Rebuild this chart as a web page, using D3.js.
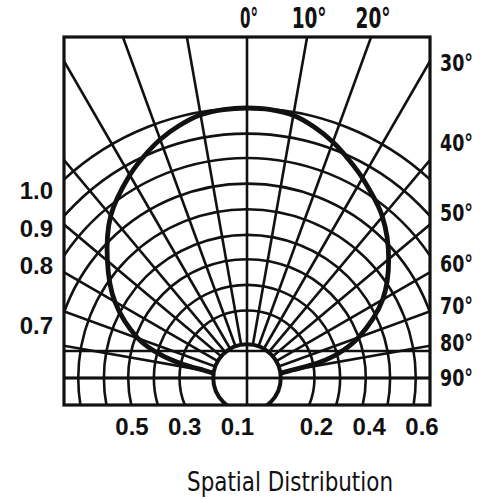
<!DOCTYPE html>
<html><head><meta charset="utf-8">
<script src="https://cdn.jsdelivr.net/npm/d3@7"></script>
<style>html,body{margin:0;padding:0;background:#fff;}svg{display:block;}</style>
</head><body>
<svg id="chart" width="481" height="499"></svg>
<script>
// ---------- data ----------
const patternAngles = [0, 5, 10, 15, 20, 25, 30, 40, 50, 60, 70, 75, 78, 80, 82];
const patternRight  = [1.0, 0.998, 0.988, 0.962, 0.93, 0.892, 0.855, 0.78, 0.685, 0.58, 0.44, 0.35, 0.27, 0.17, 0.125];
const patternLeft   = [1.0, 0.998, 0.99, 0.968, 0.94, 0.905, 0.868, 0.785, 0.675, 0.565, 0.43, 0.33, 0.24, 0.16, 0.125];
const ringValues = [0.25, 0.345, 0.44, 0.53, 0.625, 0.72, 0.815, 0.905, 1.0];
const innerRing = 0.125;
const spokeAngles = [-90, -80, -70, -60, -50, -40, -30, -20, -10, 10, 20, 30, 40, 50, 60, 70, 80, 90];
const baseLines = [0, 0.1];
const topAngleTicks = [0, 10, 20];
const sideAngleTicks = [30, 40, 50, 60, 70, 80, 90];
const leftTicks = [1.0, 0.9, 0.8, 0.7];
const bottomTicks = [-0.5, -0.3, -0.1, 0.2, 0.4, 0.6];
const titleText = "Spatial Distribution";

// ---------- layout ----------
const box = {left: 64, right: 430, top: 37, bottom: 405};
const cx = 247, cy = 378, R = 270;
const ink = "#111";
const rad = d => d * Math.PI / 180;

const svg = d3.select("#chart");
const rScale = d3.scaleLinear().domain([0, 1]).range([0, R]);
const xBottom = d3.scaleLinear().domain([-0.5, 0.6]).range([132, 422]);
const yLeft = d3.scaleLinear().domain([0.7, 0.8, 1.0]).range([325, 265, 190]);

svg.append("defs").append("clipPath").attr("id", "boxclip")
  .append("rect").attr("x", box.left).attr("y", box.top)
  .attr("width", box.right - box.left).attr("height", box.bottom - box.top);

const g = svg.append("g").attr("clip-path", "url(#boxclip)");
const polar = g.append("g").attr("transform", `translate(${cx},${cy})`);

// rings
polar.selectAll("circle.ring").data(ringValues).join("circle")
  .attr("class", "ring").attr("r", d => rScale(d))
  .attr("fill", "none").attr("stroke", ink).attr("stroke-width", 2.6);

// spokes
polar.selectAll("line.spoke").data(spokeAngles).join("line")
  .attr("class", "spoke")
  .attr("x1", d => rScale(innerRing) * Math.sin(rad(d)))
  .attr("y1", d => -rScale(innerRing) * Math.cos(rad(d)))
  .attr("x2", d => rScale(2) * Math.sin(rad(d)))
  .attr("y2", d => -rScale(2) * Math.cos(rad(d)))
  .attr("stroke", ink).attr("stroke-width", 2.6);

// horizontal base lines
g.selectAll("line.base").data(baseLines).join("line")
  .attr("class", "base")
  .attr("x1", box.left).attr("x2", box.right)
  .attr("y1", d => cy - rScale(d)).attr("y2", d => cy - rScale(d))
  .attr("stroke", ink).attr("stroke-width", 2.6);

// inner circle (masks grid)
polar.append("circle").attr("r", rScale(innerRing))
  .attr("fill", "#fff").attr("stroke", ink).attr("stroke-width", 4);

// 0° vertical line and 90° horizontal line through the inner circle
g.append("line").attr("x1", cx).attr("x2", cx).attr("y1", box.top).attr("y2", box.bottom)
  .attr("stroke", ink).attr("stroke-width", 2.6);
g.append("line").attr("x1", box.left).attr("x2", box.right)
  .attr("y1", cy - rScale(baseLines[0])).attr("y2", cy - rScale(baseLines[0]))
  .attr("stroke", ink).attr("stroke-width", 2.6);

// radiation pattern
const pts = [];
for (let i = patternAngles.length - 1; i >= 1; i--) pts.push({a: -patternAngles[i], v: patternLeft[i]});
for (let i = 0; i < patternAngles.length; i++) pts.push({a: patternAngles[i], v: patternRight[i]});
const radial = d3.lineRadial()
  .angle(d => rad(d.a)).radius(d => rScale(d.v))
  .curve(d3.curveCatmullRom.alpha(0.5));
polar.append("path").attr("d", radial(pts))
  .attr("fill", "none").attr("stroke", ink).attr("stroke-width", 4.8)
  .attr("stroke-linejoin", "round");

// box
svg.append("rect").attr("x", box.left).attr("y", box.top)
  .attr("width", box.right - box.left).attr("height", box.bottom - box.top)
  .attr("fill", "none").attr("stroke", ink).attr("stroke-width", 3.2);

// ---------- labels ----------
const cond = "'DejaVu Sans Condensed', 'DejaVu Sans', sans-serif";
const wide = "'Liberation Sans', Arial, sans-serif";

svg.selectAll("text.top").data(topAngleTicks).join("text")
  .attr("class", "top")
  .attr("x", d => cx + (cy - box.top) * Math.tan(rad(d)) + 2)
  .attr("y", 28)
  .attr("text-anchor", "middle")
  .attr("font-family", cond).attr("font-stretch", "condensed")
  .attr("font-weight", "bold").attr("font-size", 28)
  .attr("textLength", d => d === 0 ? 18 : 35).attr("lengthAdjust", "spacingAndGlyphs")
  .attr("fill", ink).text(d => d + "°");

svg.selectAll("text.side").data(sideAngleTicks).join("text")
  .attr("class", "side")
  .attr("x", 440)
  .attr("y", d => Math.max(box.top + 26, cy - 197 / Math.tan(rad(d))) + 8)
  .attr("text-anchor", "start")
  .attr("font-family", cond).attr("font-stretch", "condensed")
  .attr("font-weight", "bold").attr("font-size", 23)
  .attr("textLength", 33).attr("lengthAdjust", "spacingAndGlyphs")
  .attr("fill", ink).text(d => d + "°");

svg.selectAll("text.left").data(leftTicks).join("text")
  .attr("class", "left")
  .attr("x", 53).attr("y", d => yLeft(d) + 9)
  .attr("text-anchor", "end")
  .attr("font-family", wide).attr("font-weight", "bold").attr("font-size", 24)
  .attr("fill", ink).text(d => d3.format(".1f")(d));

svg.selectAll("text.bottom").data(bottomTicks).join("text")
  .attr("class", "bottom")
  .attr("x", d => xBottom(d)).attr("y", 435)
  .attr("text-anchor", "middle")
  .attr("font-family", wide).attr("font-weight", "bold").attr("font-size", 24)
  .attr("fill", ink).text(d => d3.format(".1f")(Math.abs(d)));

svg.append("text")
  .attr("x", 290).attr("y", 491)
  .attr("text-anchor", "middle")
  .attr("font-family", cond).attr("font-stretch", "condensed").attr("font-size", 27)
  .attr("textLength", 206).attr("lengthAdjust", "spacingAndGlyphs")
  .attr("fill", ink).text(titleText);
</script>
</body></html>
